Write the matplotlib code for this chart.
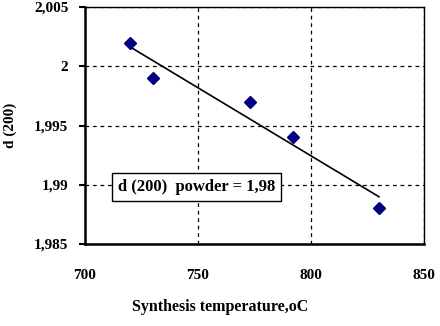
import matplotlib.pyplot as plt
import numpy as np

# Interplanar spacing d(200) vs synthesis temperature
temperature = [720, 730, 773, 792, 830]
d200 = [2.002, 1.999, 1.997, 1.994, 1.988]
y_ticks = [1.985, 1.99, 1.995, 2.0, 2.005]
x_ticks = [700, 750, 800, 850]

plt.rcParams['font.family'] = 'Liberation Serif'
plt.rcParams['font.weight'] = 'bold'
plt.rcParams['axes.labelweight'] = 'bold'

fig = plt.figure(figsize=(4.4, 3.26), dpi=100)
ax = fig.add_axes([0.193, 0.2515, 0.771, 0.727])

ax.plot(temperature, d200, linestyle='none', marker='D', markersize=6,
        color='#000080', zorder=3)

# linear trend line
slope, intercept = np.polyfit(temperature, d200, 1)
xt = np.array([min(temperature), max(temperature)])
ax.plot(xt, slope * xt + intercept, color='black', linewidth=1.2, zorder=2)

ax.set_xlim(700, 850)
ax.set_ylim(1.985, 2.005)
ax.set_xticks(x_ticks)
ax.set_yticks(y_ticks)
ax.set_yticklabels([f'{v:g}'.replace('.', ',') for v in y_ticks])
ax.tick_params(axis='x', length=0, pad=18, labelsize=11)
ax.tick_params(axis='y', length=4, width=1.5, pad=8, labelsize=11)

ax.grid(True, color='black', linestyle=(0, (3, 3)), linewidth=0.9)
for side in ['left', 'bottom']:
    ax.spines[side].set_linewidth(1.8)
for side in ['top', 'right']:
    ax.spines[side].set_linewidth(1.0)

ax.text(749.5, 1.98981, 'd (200)  powder = 1,98', ha='center', va='center',
        fontsize=12, bbox=dict(facecolor='white', edgecolor='black',
                               linewidth=1.0, boxstyle='square,pad=0.35'))

ax.set_ylabel('d (200)', fontsize=11)
ax.yaxis.set_label_coords(-0.2, 0.5)
# x label sits centred on the figure rather than the axes
fig.text(0.5, 0.035, 'Synthesis temperature,oC', ha='center', va='bottom',
         fontsize=11.5, fontweight='bold')

fig.savefig('out.png', dpi=100)
